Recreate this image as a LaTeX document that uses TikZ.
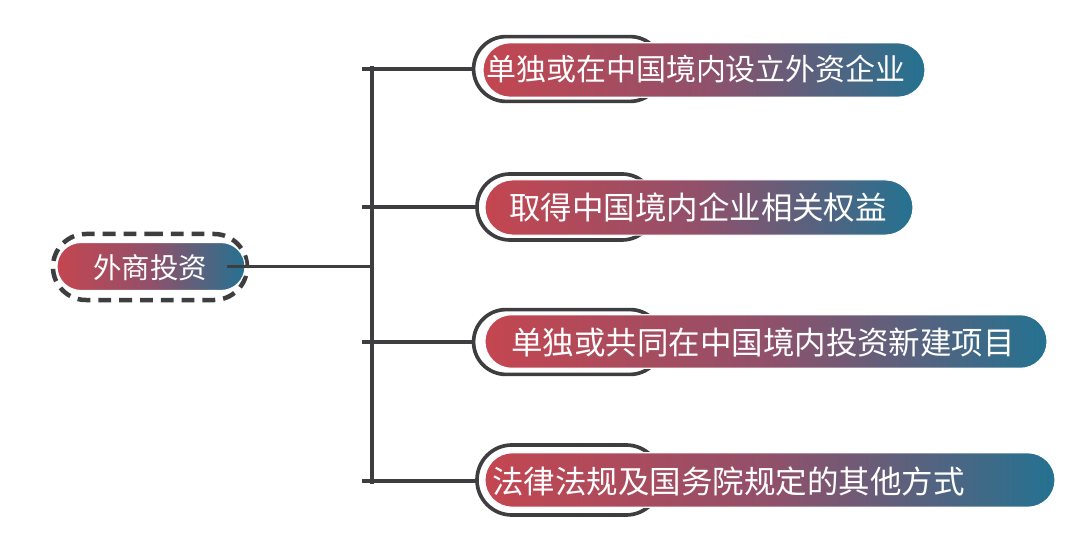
\documentclass[tikz,border=0pt]{standalone}
\usepackage{fontspec}
\setmainfont{Noto Sans CJK SC}
\usetikzlibrary{shapes.misc}
\definecolor{myred}{RGB}{196,70,80}
\definecolor{mymid}{RGB}{145,80,106}
\definecolor{myblue}{RGB}{36,114,145}
\definecolor{mygray}{RGB}{62,62,64}
\tikzset{
  outl/.style={rounded rectangle, draw=mygray, fill=white, line width=2.6pt, inner sep=0pt, outer sep=0pt},
  pill/.style={rounded rectangle, draw=white, line width=0.8pt, left color=myred, right color=myblue, middle color=mymid, inner sep=0pt, outer sep=0pt},
  lbl/.style={text=white, font=\fontsize{22.4pt}{26pt}\selectfont, inner sep=0pt},
  conn/.style={draw=mygray, line width=2.8pt}
}
\begin{document}
\begin{tikzpicture}[x=0.025cm, y=-0.025cm]
\useasboundingbox[fill=white] (0,0) rectangle (1080,543);
% root
\node[outl, draw=mygray, dash pattern=on 0.32cm off 0.2cm, line width=3.2pt, minimum width=4.85cm, minimum height=1.65cm] (o0) at (150,267) {};
\node[pill, minimum width=4.7cm, minimum height=1.2cm] (g0) at (151,266.5) {};
% children outlines
\node[outl, minimum width=4.72cm, minimum height=1.62cm] (o1) at (568,69) {};
\node[outl, minimum width=4.45cm, minimum height=1.65cm] (o2) at (566,207) {};
\node[outl, minimum width=4.72cm, minimum height=1.62cm] (o3) at (568,342) {};
\node[outl, minimum width=4.6cm, minimum height=1.75cm] (o4) at (569,480) {};
% gradient pills
\node[pill, minimum width=11.05cm, minimum height=1.36cm] (g1) at (704,70) {};
\node[pill, minimum width=10.7cm, minimum height=1.38cm] (g2) at (699,207.5) {};
\node[pill, minimum width=14.05cm, minimum height=1.34cm] (g3) at (766,341.5) {};
\node[pill, minimum width=14.25cm, minimum height=1.36cm] (g4) at (770,480) {};
% connectors
\coordinate (top) at (372,66);
\coordinate (bot) at (372,484);
\coordinate (b1) at (362,69);
\coordinate (b2) at (362,207);
\coordinate (b3) at (362,342);
\coordinate (b4) at (362,481);
\draw[conn] (top) -- (bot);
\draw[conn] ([xshift=-0.45cm]g0.east) -- (top |- g0.east);
\draw[conn] (b1) -- (b1 -| o1.west);
\draw[conn] (b2) -- (b2 -| o2.west);
\draw[conn] (b3) -- (b3 -| o3.west);
\draw[conn] (b4) -- (b4 -| o4.west);
% labels
\node[lbl, font=\fontsize{20.2pt}{24pt}\selectfont] (t0) at (150,268) {外商投资};
\node[lbl, font=\fontsize{21.3pt}{25pt}\selectfont] (t1) at (696,69) {单独或在中国境内设立外资企业};
\node[lbl] (t2) at (698,207) {取得中国境内企业相关权益};
\node[lbl] (t3) at (763,342) {单独或共同在中国境内投资新建项目};
\node[lbl] (t4) at (728.5,481) {法律法规及国务院规定的其他方式};
\end{tikzpicture}
\end{document}
